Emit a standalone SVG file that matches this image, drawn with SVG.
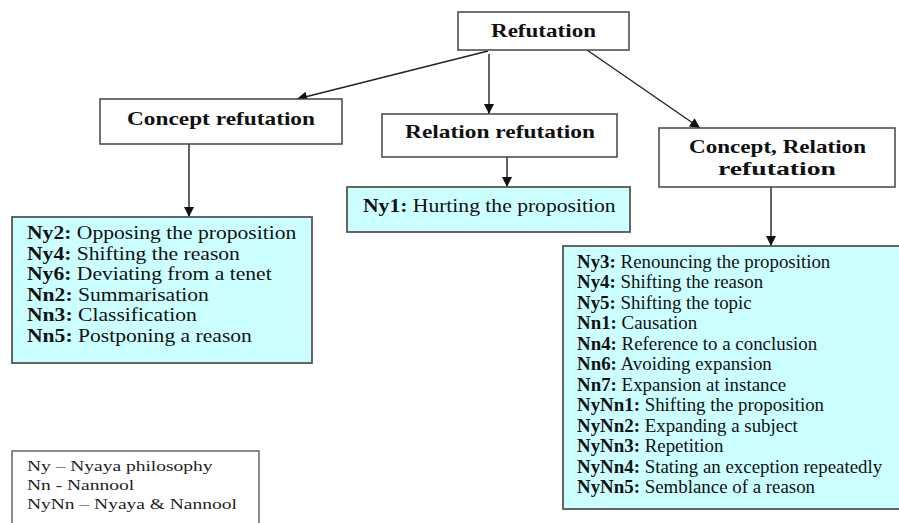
<svg xmlns="http://www.w3.org/2000/svg" width="899" height="523" viewBox="0 0 899 523">
<defs>
<style>
.hb{fill:#fff;stroke:#444;stroke-width:1.5}
.lb{fill:#ccffff;stroke:#555;stroke-width:1.8}
.gb{fill:#fff;stroke:#666;stroke-width:1.5}
.h{font-family:"Liberation Serif","Times New Roman",serif;font-weight:bold;font-size:19px;fill:#111}
.t{font-family:"Liberation Serif","Times New Roman",serif;font-size:18px;fill:#111}
.g{font-family:"Liberation Serif","Times New Roman",serif;font-size:15px;fill:#222}
.b{font-weight:bold}
.c{stroke:#222;stroke-width:1.4;fill:none;marker-end:url(#ah)}
</style>
<marker id="ah" viewBox="0 0 10 10" refX="10" refY="5" markerWidth="11" markerHeight="10" markerUnits="userSpaceOnUse" orient="auto">
<path d="M0,0 L10,5 L0,10 Z" fill="#111"/>
</marker>
</defs>
<g id="connectors">
<line class="c" x1="488" y1="51" x2="297" y2="99"/>
<line class="c" x1="489" y1="54" x2="489" y2="114"/>
<line class="c" x1="587" y1="50" x2="700" y2="128"/>
<line class="c" x1="189" y1="144" x2="189" y2="217"/>
<line class="c" x1="507" y1="157" x2="507" y2="187"/>
<line class="c" x1="771" y1="187" x2="771" y2="246"/>
</g>
<g id="refutation">
<rect class="hb" x="458" y="12" width="171" height="38"/>
<text class="h" x="491" y="37" textLength="105" lengthAdjust="spacingAndGlyphs">Refutation</text>
</g>
<g id="concept-refutation">
<rect class="hb" x="100" y="99" width="242" height="45"/>
<text class="h" x="127" y="125" textLength="188" lengthAdjust="spacingAndGlyphs">Concept refutation</text>
</g>
<g id="relation-refutation">
<rect class="hb" x="382" y="114" width="235" height="43"/>
<text class="h" x="405" y="138" textLength="190" lengthAdjust="spacingAndGlyphs">Relation refutation</text>
</g>
<g id="concept-relation-refutation">
<rect class="hb" x="659" y="128" width="236" height="59"/>
<text class="h" x="689" y="153" textLength="177" lengthAdjust="spacingAndGlyphs">Concept, Relation</text>
<text class="h" x="718" y="175" textLength="118" lengthAdjust="spacingAndGlyphs">refutation</text>
</g>
<g id="concept-list">
<rect class="lb" x="12" y="217" width="300" height="146"/>
<g transform="translate(27,0) scale(1.2,1)">
<text class="t" x="0" y="239"><tspan class="b">Ny2:</tspan> Opposing the proposition</text>
<text class="t" x="0" y="259.6"><tspan class="b">Ny4:</tspan> Shifting the reason</text>
<text class="t" x="0" y="280.2"><tspan class="b">Ny6:</tspan> Deviating from a tenet</text>
<text class="t" x="0" y="300.8"><tspan class="b">Nn2:</tspan> Summarisation</text>
<text class="t" x="0" y="321.4"><tspan class="b">Nn3:</tspan> Classification</text>
<text class="t" x="0" y="342"><tspan class="b">Nn5:</tspan> Postponing a reason</text>
</g>
</g>
<g id="relation-list">
<rect class="lb" x="347" y="187" width="283" height="45"/>
<g transform="translate(363,0) scale(1.2,1)">
<text class="t" x="0" y="212"><tspan class="b">Ny1:</tspan> Hurting the proposition</text>
</g>
</g>
<g id="concept-relation-list">
<rect class="lb" x="563" y="246" width="340" height="263"/>
<g transform="translate(577,0) scale(1.05,1)">
<text class="t" x="0" y="268"><tspan class="b">Ny3:</tspan> Renouncing the proposition</text>
<text class="t" x="0" y="288.5"><tspan class="b">Ny4:</tspan> Shifting the reason</text>
<text class="t" x="0" y="309"><tspan class="b">Ny5:</tspan> Shifting the topic</text>
<text class="t" x="0" y="329.5"><tspan class="b">Nn1:</tspan> Causation</text>
<text class="t" x="0" y="350"><tspan class="b">Nn4:</tspan> Reference to a conclusion</text>
<text class="t" x="0" y="370.5"><tspan class="b">Nn6:</tspan> Avoiding expansion</text>
<text class="t" x="0" y="391"><tspan class="b">Nn7:</tspan> Expansion at instance</text>
<text class="t" x="0" y="411.5"><tspan class="b">NyNn1:</tspan> Shifting the proposition</text>
<text class="t" x="0" y="432"><tspan class="b">NyNn2:</tspan> Expanding a subject</text>
<text class="t" x="0" y="452.5"><tspan class="b">NyNn3:</tspan> Repetition</text>
<text class="t" x="0" y="473"><tspan class="b">NyNn4:</tspan> Stating an exception repeatedly</text>
<text class="t" x="0" y="493.5"><tspan class="b">NyNn5:</tspan> Semblance of a reason</text>
</g>
</g>
<g id="legend">
<rect class="gb" x="12" y="451" width="247" height="80"/>
<g transform="translate(27,0) scale(1.3,1)">
<text class="g" x="0" y="471">Ny – Nyaya philosophy</text>
<text class="g" x="0" y="490">Nn - Nannool</text>
<text class="g" x="0" y="509">NyNn – Nyaya &amp; Nannool</text>
</g>
</g>
</svg>
